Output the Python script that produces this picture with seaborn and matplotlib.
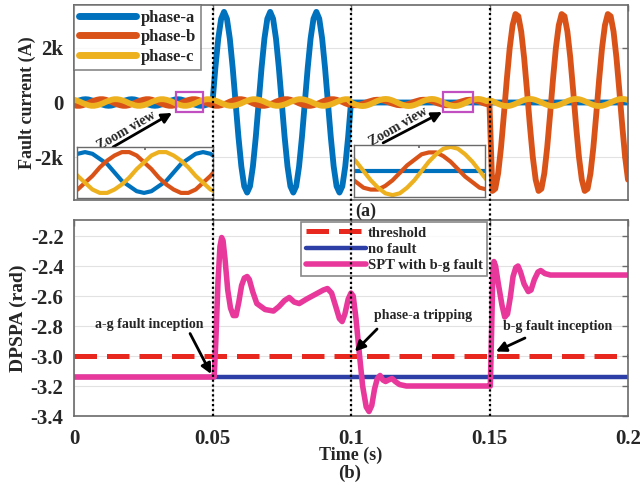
import numpy as np
import pandas as pd
import seaborn as sns
import matplotlib
matplotlib.use("Agg")
import matplotlib.pyplot as plt
from matplotlib.lines import Line2D
from matplotlib.patches import Rectangle
import matplotlib.transforms as mtransforms

# ---------------- data ----------------
# Fault currents (kA), one sample every 1/960 s (16 per 60 Hz cycle), 0 ... 0.2 s
sample_rate = 960.0

phase_a = [
    # 0 - 0.05 s : pre-fault
    0.00, 0.05, 0.08, 0.11, 0.12, 0.11, 0.08, 0.05, 0.00, -0.05, -0.08, -0.11, -0.12, -0.11, -0.08, -0.05,
    0.00, 0.05, 0.08, 0.11, 0.12, 0.11, 0.08, 0.05, 0.00, -0.05, -0.08, -0.11, -0.12, -0.11, -0.08, -0.05,
    0.00, 0.05, 0.08, 0.11, 0.12, 0.11, 0.08, 0.05, 0.00, -0.05, -0.08, -0.11, -0.12, -0.11, -0.08, -0.05,
    # 0.05 - 0.1 s : a-g fault
    0.00, 1.26, 2.33, 3.05, 3.30, 3.05, 2.33, 1.26, 0.00, -1.26, -2.33, -3.05, -3.28, -3.05, -2.33, -1.26,
    0.00, 1.26, 2.33, 3.05, 3.30, 3.05, 2.33, 1.26, 0.00, -1.26, -2.33, -3.05, -3.28, -3.05, -2.33, -1.26,
    0.00, 1.26, 2.33, 3.05, 3.30, 3.05, 2.33, 1.26, 0.00, -1.26, -2.33, -3.05, -3.28, -3.05, -2.33, -1.26,
    # 0.1 - 0.2 s : phase-a tripped
    0.00, 0.00, 0.00, 0.00, 0.00, 0.00, 0.00, 0.00, 0.00, 0.00, 0.00, 0.00, 0.00, 0.00, 0.00, 0.00,
    0.00, 0.00, 0.00, 0.00, 0.00, 0.00, 0.00, 0.00, 0.00, 0.00, 0.00, 0.00, 0.00, 0.00, 0.00, 0.00,
    0.00, 0.00, 0.00, 0.00, 0.00, 0.00, 0.00, 0.00, 0.00, 0.00, 0.00, 0.00, 0.00, 0.00, 0.00, 0.00,
    0.00, 0.00, 0.00, 0.00, 0.00, 0.00, 0.00, 0.00, 0.00, 0.00, 0.00, 0.00, 0.00, 0.00, 0.00, 0.00,
    0.00, 0.00, 0.00, 0.00, 0.00, 0.00, 0.00, 0.00, 0.00, 0.00, 0.00, 0.00, 0.00, 0.00, 0.00, 0.00,
    0.00, 0.00, 0.00, 0.00, 0.00, 0.00, 0.00, 0.00, 0.00, 0.00, 0.00, 0.00, 0.00, 0.00, 0.00, 0.00,
    0.00,
]

phase_b = [
    # 0 - 0.1 s
    -0.10, -0.12, -0.12, -0.10, -0.06, -0.02, 0.03, 0.07, 0.10, 0.12, 0.12, 0.10, 0.06, 0.02, -0.03, -0.07,
    -0.10, -0.12, -0.12, -0.10, -0.06, -0.02, 0.03, 0.07, 0.10, 0.12, 0.12, 0.10, 0.06, 0.02, -0.03, -0.07,
    -0.10, -0.12, -0.12, -0.10, -0.06, -0.02, 0.03, 0.07, 0.10, 0.12, 0.12, 0.10, 0.06, 0.02, -0.03, -0.07,
    -0.10, -0.12, -0.12, -0.10, -0.06, -0.02, 0.03, 0.07, 0.10, 0.12, 0.12, 0.10, 0.06, 0.02, -0.03, -0.07,
    -0.10, -0.12, -0.12, -0.10, -0.06, -0.02, 0.03, 0.07, 0.10, 0.12, 0.12, 0.10, 0.06, 0.02, -0.03, -0.07,
    -0.10, -0.12, -0.12, -0.10, -0.06, -0.02, 0.03, 0.07, 0.10, 0.12, 0.12, 0.10, 0.06, 0.02, -0.03, -0.07,
    # 0.1 - 0.15 s
    -0.09, -0.10, -0.10, -0.08, -0.05, -0.01, 0.03, 0.06, 0.09, 0.10, 0.10, 0.08, 0.05, 0.01, -0.03, -0.06,
    -0.09, -0.10, -0.10, -0.08, -0.05, -0.01, 0.03, 0.06, 0.09, 0.10, 0.10, 0.08, 0.05, 0.01, -0.03, -0.06,
    -0.09, -0.10, -0.10, -0.08, -0.05, -0.01, 0.03, 0.06, 0.09, 0.10, 0.10, 0.08, 0.05, 0.01, -0.03, -0.06,
    # 0.15 - 0.2 s : b-g fault
    -0.09, -3.22, -3.14, -2.58, -1.63, -0.43, 0.84, 1.98, 2.81, 3.22, 3.14, 2.58, 1.63, 0.43, -0.84, -1.98,
    -2.81, -3.22, -3.14, -2.58, -1.63, -0.43, 0.84, 1.98, 2.81, 3.22, 3.14, 2.58, 1.63, 0.43, -0.84, -1.98,
    -2.81, -3.22, -3.14, -2.58, -1.63, -0.43, 0.84, 1.98, 2.81, 3.22, 3.14, 2.58, 1.63, 0.43, -0.84, -1.98,
    -2.81,
]

phase_c = [
    # 0 - 0.1 s
    0.10, 0.07, 0.03, -0.02, -0.06, -0.10, -0.12, -0.12, -0.10, -0.07, -0.03, 0.02, 0.06, 0.10, 0.12, 0.12,
    0.10, 0.07, 0.03, -0.02, -0.06, -0.10, -0.12, -0.12, -0.10, -0.07, -0.03, 0.02, 0.06, 0.10, 0.12, 0.12,
    0.10, 0.07, 0.03, -0.02, -0.06, -0.10, -0.12, -0.12, -0.10, -0.07, -0.03, 0.02, 0.06, 0.10, 0.12, 0.12,
    0.10, 0.07, 0.03, -0.02, -0.06, -0.10, -0.12, -0.12, -0.10, -0.07, -0.03, 0.02, 0.06, 0.10, 0.12, 0.12,
    0.10, 0.07, 0.03, -0.02, -0.06, -0.10, -0.12, -0.12, -0.10, -0.07, -0.03, 0.02, 0.06, 0.10, 0.12, 0.12,
    0.10, 0.07, 0.03, -0.02, -0.06, -0.10, -0.12, -0.12, -0.10, -0.07, -0.03, 0.02, 0.06, 0.10, 0.12, 0.12,
    # 0.1 - 0.15 s
    0.00, -0.05, -0.09, -0.12, -0.13, -0.12, -0.09, -0.05, 0.00, 0.05, 0.09, 0.12, 0.13, 0.12, 0.09, 0.05,
    0.00, -0.05, -0.09, -0.12, -0.13, -0.12, -0.09, -0.05, 0.00, 0.05, 0.09, 0.12, 0.13, 0.12, 0.09, 0.05,
    0.00, -0.05, -0.09, -0.12, -0.13, -0.12, -0.09, -0.05, 0.00, 0.05, 0.09, 0.12, 0.13, 0.12, 0.09, 0.05,
    # 0.15 - 0.2 s
    0.09, 0.05, 0.00, -0.05, -0.09, -0.12, -0.13, -0.12, -0.09, -0.05, 0.00, 0.05, 0.09, 0.12, 0.13, 0.12,
    0.09, 0.05, 0.00, -0.05, -0.09, -0.12, -0.13, -0.12, -0.09, -0.05, 0.00, 0.05, 0.09, 0.12, 0.13, 0.12,
    0.09, 0.05, 0.00, -0.05, -0.09, -0.12, -0.13, -0.12, -0.09, -0.05, 0.00, 0.05, 0.09, 0.12, 0.13, 0.12,
    0.09,
]

phase_names = ["phase-a", "phase-b", "phase-c"]
current_yticks = [-2, 0, 2]
current_yticklabels = ["-2k", "0", "2k"]

# DPSPA (rad)
spt_time = [0.0000, 0.0502, 0.0506, 0.0512, 0.0520, 0.0527, 0.0533, 0.0538, 0.0545, 0.0555,
            0.0565, 0.0575, 0.0585, 0.0595, 0.0605, 0.0615, 0.0625, 0.0633, 0.0645, 0.0660,
            0.0690, 0.0720, 0.0740, 0.0760, 0.0777, 0.0795, 0.0813, 0.0840, 0.0870, 0.0900,
            0.0915, 0.0930, 0.0945, 0.0958, 0.0968, 0.0978, 0.0990, 0.1000, 0.1008, 0.1018,
            0.1030, 0.1042, 0.1055, 0.1065, 0.1075, 0.1085, 0.1095, 0.1105, 0.1115, 0.1125,
            0.1135, 0.1148, 0.1160, 0.1175, 0.1200, 0.1500, 0.1503, 0.1508, 0.1512, 0.1516,
            0.1522, 0.1532, 0.1545, 0.1555, 0.1565, 0.1575, 0.1585, 0.1595, 0.1603, 0.1612,
            0.1625, 0.1640, 0.1650, 0.1662, 0.1675, 0.1685, 0.1700, 0.1720, 0.2000]
spt_dpspa = [-3.14, -3.14, -3.14, -2.90, -2.50, -2.27, -2.21, -2.23, -2.35, -2.56,
             -2.68, -2.73, -2.73, -2.64, -2.53, -2.48, -2.47, -2.49, -2.57, -2.65,
             -2.69, -2.70, -2.67, -2.63, -2.61, -2.64, -2.65, -2.62, -2.59, -2.56,
             -2.55, -2.58, -2.67, -2.75, -2.77, -2.72, -2.62, -2.58, -2.60, -2.75,
             -2.98, -3.20, -3.34, -3.37, -3.33, -3.22, -3.15, -3.13, -3.16, -3.17,
             -3.16, -3.15, -3.17, -3.19, -3.20, -3.20, -3.20, -2.80, -2.45, -2.37,
             -2.40, -2.52, -2.66, -2.74, -2.72, -2.61, -2.47, -2.41, -2.40, -2.44,
             -2.52, -2.57, -2.56, -2.49, -2.44, -2.43, -2.45, -2.46, -2.46]
line_time = [0.0, 0.2]
nofault_dpspa = [-3.14, -3.14]
threshold_dpspa = [-3.0, -3.0]
dpspa_names = ["threshold", "no fault", "SPT with b-g fault"]

event_times = [0.05, 0.1, 0.15]
time_ticks = [0, 0.05, 0.1, 0.15, 0.2]
time_ticklabels = ["0", "0.05", "0.1", "0.15", "0.2"]
dpspa_ticks = [-3.4, -3.2, -3.0, -2.8, -2.6, -2.4, -2.2]
dpspa_ticklabels = ["-3.4", "-3.2", "-3.0", "-2.8", "-2.6", "-2.4", "-2.2"]

# zoomed windows (time range, current range in kA)
zoom_box_times = [(0.0367, 0.0464), (0.1331, 0.1442)]
zoom_box_current = (-0.33, 0.40)
inset_times = [(0.0197, 0.0389), (0.1153, 0.1341)]
inset_current = [(-0.15, 0.15), (-0.14, 0.14)]

# ---------------- style ----------------
sns.set_theme(style="white")
plt.rcParams["font.family"] = ["Liberation Serif", "DejaVu Serif"]
plt.rcParams["font.weight"] = "bold"
plt.rcParams["axes.labelweight"] = "bold"
plt.rcParams["axes.unicode_minus"] = False

cur_colors = ["#0072BD", "#D95319", "#EDB120"]
dp_colors = ["#E8281E", "#2D3FA6", "#E8389C"]
frame_col = "#6a6a6a"
grid_col = "#e2e2e2"

W, H = 644, 484
fig = plt.figure(figsize=(W / 100, H / 100), dpi=100)
ax1 = fig.add_axes([74 / W, 1 - 200 / H, 554 / W, 195 / H])
ax2 = fig.add_axes([74 / W, 1 - 416 / H, 554 / W, 196 / H])

t = np.arange(len(phase_a)) / sample_rate
df_cur = pd.DataFrame({"t": t, "phase-a": phase_a, "phase-b": phase_b, "phase-c": phase_c})


def style_axes(ax):
    for s in ax.spines.values():
        s.set_color(frame_col)
        s.set_linewidth(1.2)
    ax.tick_params(direction="in", top=True, right=True, length=4, width=1,
                   color=frame_col, labelsize=15, pad=7.5)
    ax.grid(True, color=grid_col, linewidth=0.8)
    ax.set_axisbelow(True)


# ---- top panel ----
for name, col in zip(phase_names, cur_colors):
    sns.lineplot(data=df_cur, x="t", y=name, ax=ax1, color=col, linewidth=4.2,
                 estimator=None, sort=False, legend=False,
                 solid_joinstyle="round", solid_capstyle="round")
ax1.set_xlim(0, 0.2)
ax1.set_ylim(-3.55, 3.55)
ax1.set_xticks(time_ticks)
ax1.set_xticklabels([])
ax1.set_yticks(current_yticks)
ax1.set_yticklabels(current_yticklabels)
ax1.set_xlabel("")
ax1.set_ylabel("Fault current (A)", fontsize=13, fontweight="bold")
ax1.yaxis.set_label_coords(-0.068, 0.5)
style_axes(ax1)

leg1 = ax1.legend([Line2D([], [], color=c, lw=5) for c in cur_colors], phase_names,
                  loc="upper left", bbox_to_anchor=(74 / W, 1 - 5 / H),
                  bbox_transform=fig.transFigure, fontsize=12, handlelength=3.4,
                  handletextpad=0.3, labelspacing=0.2, borderpad=0.3, borderaxespad=0,
                  frameon=True, fancybox=False, edgecolor=frame_col)
leg1.get_frame().set_linewidth(1.2)
for tx in leg1.get_texts():
    tx.set_fontweight("bold")

# zoom boxes
for (t0, t1) in zoom_box_times:
    ax1.add_patch(Rectangle((t0, zoom_box_current[0]), t1 - t0,
                            zoom_box_current[1] - zoom_box_current[0],
                            fill=False, edgecolor="#C24FC2", linewidth=1.6, zorder=5))

# "Zoom view" arrows
zoom_arrows = [((0.0141, -1.62), (0.0354, -0.38), (0.0188, -1.04)),
               ((0.1116, -1.47), (0.1329, -0.35), (0.1170, -0.89))]
for tail, head, txt in zoom_arrows:
    ax1.annotate("", xy=head, xytext=tail,
                 arrowprops=dict(arrowstyle="-|>,head_length=0.5,head_width=0.25",
                                 color="black", lw=2, shrinkA=0, shrinkB=0), zorder=6)
    ax1.text(txt[0], txt[1], "Zoom view", rotation=30, ha="center", va="center",
             fontsize=10, fontweight="bold", zorder=6)

# insets
inset_rects = [[77 / W, 1 - 198 / H, 136 / W, 51 / H],
               [354 / W, 1 - 197 / H, 131 / W, 52 / H]]
for rect, (ta, tb), yl in zip(inset_rects, inset_times, inset_current):
    axi = fig.add_axes(rect)
    for name, col in zip(phase_names, cur_colors):
        sns.lineplot(data=df_cur, x="t", y=name, ax=axi, color=col, linewidth=3,
                     estimator=None, sort=False, legend=False,
                     solid_joinstyle="round")
    axi.set_xlim(ta, tb)
    axi.set_ylim(*yl)
    axi.set_xticks(np.linspace(ta, tb, 3)[1:-1])
    axi.set_yticks([])
    axi.set_xticklabels([])
    axi.set_xlabel("")
    axi.set_ylabel("")
    axi.tick_params(direction="in", top=True, length=2, color=frame_col)
    axi.set_facecolor("white")
    for s in axi.spines.values():
        s.set_color(frame_col)
        s.set_linewidth(1.0)

# ---- bottom panel ----
df_line = pd.DataFrame({"t": line_time, "threshold": threshold_dpspa, "nofault": nofault_dpspa})
df_spt = pd.DataFrame({"t": spt_time, "spt": spt_dpspa})
sns.lineplot(data=df_line, x="t", y="threshold", ax=ax2, color=dp_colors[0], linewidth=3.6,
             estimator=None, legend=False)
ax2.lines[-1].set_dashes((4.5, 2.0))
sns.lineplot(data=df_line, x="t", y="nofault", ax=ax2, color=dp_colors[1], linewidth=3.2,
             estimator=None, legend=False)
sns.lineplot(data=df_spt, x="t", y="spt", ax=ax2, color=dp_colors[2], linewidth=4,
             estimator=None, sort=False, legend=False,
             solid_joinstyle="round", solid_capstyle="round")
ax2.set_xlim(0, 0.2)
ax2.set_ylim(-3.4, -2.093)
ax2.set_xticks(time_ticks)
ax2.set_xticklabels(time_ticklabels)
ax2.set_yticks(dpspa_ticks)
ax2.set_yticklabels(dpspa_ticklabels)
ax2.set_xlabel("Time (s)", fontsize=13, fontweight="bold")
ax2.xaxis.set_label_coords(0.5, -0.158)
ax2.set_ylabel("DPSPA (rad)", fontsize=14, fontweight="bold")
ax2.yaxis.set_label_coords(-0.085, 0.5)
style_axes(ax2)
ax2.tick_params(axis="x", pad=9)

h_thr = Line2D([], [], color=dp_colors[0], lw=3.6)
h_thr.set_dashes((4.5, 2.0))
leg2 = ax2.legend([h_thr, Line2D([], [], color=dp_colors[1], lw=3.2),
                   Line2D([], [], color=dp_colors[2], lw=4)], dpspa_names,
                  loc="upper right", bbox_to_anchor=(487 / W, 1 - 222 / H),
                  bbox_transform=fig.transFigure, fontsize=10.5, handlelength=4.1,
                  handletextpad=0.15, labelspacing=0.2, borderpad=0.3, borderaxespad=0,
                  frameon=True, fancybox=False, edgecolor=frame_col)
leg2.get_frame().set_linewidth(1.2)
for tx in leg2.get_texts():
    tx.set_fontweight("bold")

annotations = [("a-g fault inception", (0.0419, -2.85), (0.0495, -3.12), (0.0271, -2.79)),
               ("phase-a tripping", (0.1094, -2.82), (0.1014, -2.97), (0.1260, -2.73)),
               ("b-g fault inception", (0.1628, -2.88), (0.1523, -2.97), (0.1747, -2.80))]
for label, tail, head, txt in annotations:
    ax2.annotate("", xy=head, xytext=tail,
                 arrowprops=dict(arrowstyle="-|>,head_length=0.5,head_width=0.25",
                                 color="black", lw=2, shrinkA=0, shrinkB=0), zorder=6)
    ax2.text(txt[0], txt[1], label, ha="center", va="center", fontsize=10,
             fontweight="bold", zorder=6)

# vertical dotted event lines across both panels
trans = mtransforms.blended_transform_factory(ax2.transData, fig.transFigure)
for ev in event_times:
    fig.add_artist(Line2D([ev, ev], [1 - 416 / H, 1 - 5 / H], transform=trans,
                          color="black", linestyle=(0, (1, 1.2)), linewidth=1.6, zorder=10))

fig.text(366 / W, 1 - 211 / H, "(a)", ha="center", va="center", fontsize=13, fontweight="bold")
fig.text(350 / W, 1 - 473 / H, "(b)", ha="center", va="center", fontsize=13.5, fontweight="bold")

fig.savefig("out.png", dpi=100)
